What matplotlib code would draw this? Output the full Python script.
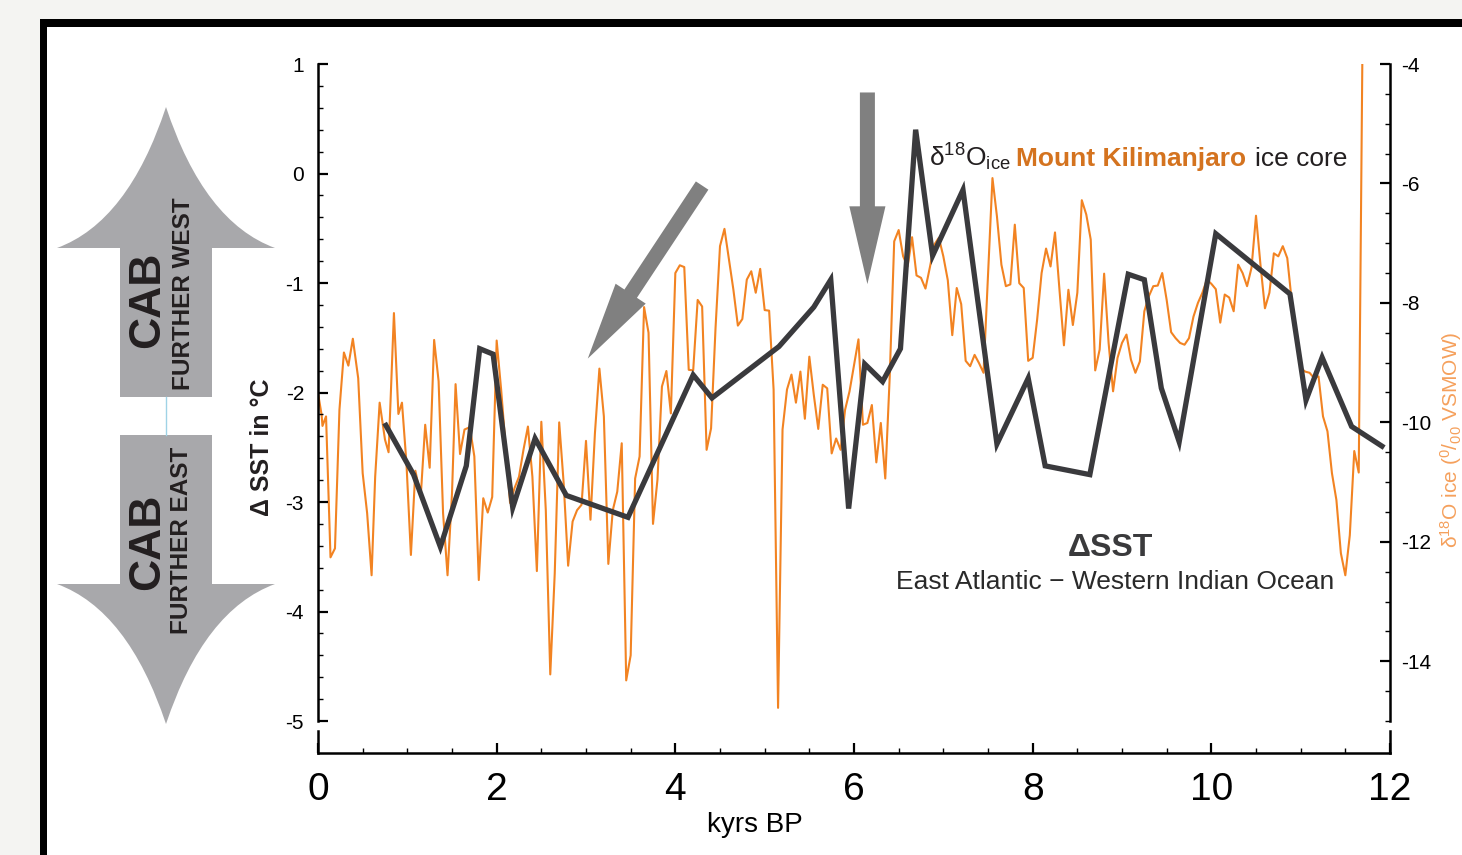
import matplotlib
matplotlib.use("Agg")
import matplotlib.pyplot as plt
from matplotlib.patches import Rectangle, PathPatch, FancyArrowPatch, ArrowStyle
from matplotlib.path import Path
from matplotlib.ticker import MultipleLocator

plt.rcParams["font.family"] = ["Liberation Sans", "DejaVu Sans"]
plt.rcParams["axes.unicode_minus"] = False
plt.rcParams["mathtext.fontset"] = "custom"
plt.rcParams["mathtext.rm"] = "Liberation Sans"
plt.rcParams["mathtext.it"] = "Liberation Sans:italic"
plt.rcParams["mathtext.bf"] = "Liberation Sans:bold"
narrow = ["Liberation Sans Narrow", "Liberation Sans", "DejaVu Sans"]

W, H = 1462, 855

# Delta SST, East Atlantic minus Western Indian Ocean (deg C)
sst_kyr = [0.76, 1.07, 1.37, 1.66, 1.81, 1.96, 2.18, 2.43, 2.78, 3.47, 4.20, 4.41,
           5.16, 5.55, 5.74, 5.94, 6.12, 6.32, 6.52, 6.69, 6.88, 7.22, 7.60, 7.95,
           8.14, 8.64, 9.07, 9.25, 9.44, 9.64, 10.05, 10.88, 11.06, 11.24, 11.57, 11.91]
sst_val = [-2.30, -2.75, -3.41, -2.67, -1.60, -1.65, -3.05, -2.42, -2.94, -3.14, -1.84, -2.05,
           -1.58, -1.22, -0.97, -3.06, -1.74, -1.90, -1.60, 0.40, -0.75, -0.15, -2.47, -1.87,
           -2.67, -2.75, -0.92, -0.97, -1.96, -2.45, -0.55, -1.10, -2.07, -1.68, -2.31, -2.49]

# Mount Kilimanjaro ice core d18O (permil VSMOW)
ice_kyr = [0.00, 0.04, 0.05, 0.09, 0.14, 0.19, 0.24, 0.29, 0.34, 0.39, 0.45, 0.50,
           0.55, 0.60, 0.64, 0.69, 0.75, 0.79, 0.85, 0.90, 0.94, 0.99, 1.04, 1.09,
           1.15, 1.20, 1.25, 1.30, 1.35, 1.40, 1.45, 1.50, 1.54, 1.59, 1.64, 1.70,
           1.75, 1.80, 1.85, 1.90, 1.95, 2.00, 2.05, 2.10, 2.15, 2.20, 2.25, 2.30,
           2.35, 2.40, 2.45, 2.50, 2.55, 2.60, 2.65, 2.70, 2.75, 2.80, 2.85, 2.90,
           2.95, 3.00, 3.05, 3.10, 3.15, 3.20, 3.25, 3.30, 3.35, 3.40, 3.45, 3.50,
           3.55, 3.60, 3.65, 3.70, 3.75, 3.80, 3.85, 3.90, 3.95, 4.00, 4.05, 4.10,
           4.15, 4.20, 4.25, 4.30, 4.35, 4.40, 4.45, 4.50, 4.55, 4.60, 4.65, 4.70,
           4.75, 4.80, 4.85, 4.90, 4.95, 5.00, 5.05, 5.10, 5.15, 5.20, 5.25, 5.30,
           5.35, 5.40, 5.45, 5.50, 5.55, 5.60, 5.65, 5.70, 5.75, 5.80, 5.85, 5.90,
           5.95, 6.00, 6.05, 6.10, 6.15, 6.20, 6.25, 6.30, 6.35, 6.40, 6.45, 6.50,
           6.55, 6.60, 6.65, 6.70, 6.75, 6.80, 6.85, 6.90, 6.95, 7.00, 7.05, 7.10,
           7.15, 7.20, 7.25, 7.30, 7.35, 7.40, 7.45, 7.55, 7.60, 7.65, 7.70, 7.75,
           7.80, 7.85, 7.90, 7.95, 8.00, 8.05, 8.10, 8.15, 8.20, 8.25, 8.30, 8.35,
           8.40, 8.45, 8.50, 8.55, 8.60, 8.65, 8.70, 8.75, 8.80, 8.85, 8.90, 8.95,
           9.00, 9.05, 9.10, 9.15, 9.20, 9.25, 9.30, 9.35, 9.40, 9.45, 9.50, 9.55,
           9.60, 9.65, 9.70, 9.75, 9.80, 9.85, 9.90, 9.95, 10.00, 10.05, 10.10, 10.15,
           10.20, 10.25, 10.30, 10.35, 10.40, 10.45, 10.50, 10.55, 10.60, 10.65, 10.70, 10.75,
           10.80, 10.85, 10.90, 10.95, 11.00, 11.05, 11.10, 11.15, 11.20, 11.25, 11.30, 11.35,
           11.40, 11.45, 11.50, 11.55, 11.60, 11.65, 11.69]
ice_d18o = [-9.51, -9.87, -10.06, -9.90, -12.26, -12.11, -9.79, -8.83, -9.05, -8.60, -9.26, -10.85,
            -11.52, -12.56, -10.91, -9.67, -10.29, -10.50, -8.17, -9.86, -9.67, -10.68, -12.22, -10.81,
            -11.24, -10.04, -10.76, -8.62, -9.31, -11.52, -12.56, -11.19, -9.36, -10.53, -10.12, -10.08,
            -10.57, -12.64, -11.27, -11.51, -11.25, -8.63, -9.45, -10.40, -11.35, -11.10, -10.91, -10.46,
            -10.07, -10.91, -12.49, -9.99, -11.47, -14.22, -12.53, -10.00, -11.02, -12.40, -11.66, -11.47,
            -11.38, -10.31, -11.63, -10.18, -9.10, -9.90, -12.37, -11.47, -11.16, -10.35, -14.32, -13.90,
            -10.94, -10.57, -8.07, -8.50, -11.70, -10.96, -9.40, -9.14, -9.85, -7.50, -7.37, -7.40,
            -9.12, -9.13, -7.95, -8.06, -10.46, -10.10, -8.42, -7.05, -6.76, -7.27, -7.78, -8.38,
            -8.27, -7.61, -7.47, -7.83, -7.43, -8.12, -8.13, -9.45, -14.78, -10.12, -9.45, -9.20,
            -9.67, -9.15, -9.94, -8.90, -9.54, -10.11, -9.37, -9.43, -10.52, -10.27, -10.46, -9.79,
            -9.48, -9.04, -8.61, -10.04, -10.01, -9.71, -10.67, -10.01, -10.94, -9.23, -6.97, -6.78,
            -7.22, -7.39, -6.90, -7.54, -7.58, -7.76, -7.40, -7.02, -6.91, -7.22, -7.62, -8.54,
            -7.75, -8.02, -8.97, -9.06, -8.87, -9.01, -9.17, -5.91, -6.55, -7.36, -7.72, -7.69,
            -6.69, -7.67, -7.75, -8.97, -8.92, -8.28, -7.50, -7.09, -7.39, -6.82, -7.78, -8.71,
            -7.78, -8.37, -7.83, -6.28, -6.52, -6.94, -9.13, -8.78, -7.51, -8.67, -9.48, -8.92,
            -8.67, -8.53, -8.95, -9.17, -8.98, -8.14, -7.89, -7.72, -7.71, -7.50, -7.95, -8.49,
            -8.59, -8.67, -8.70, -8.59, -8.23, -8.00, -7.83, -7.61, -7.68, -7.77, -8.33, -7.86,
            -7.91, -8.14, -7.36, -7.50, -7.72, -7.41, -6.54, -7.36, -8.09, -7.83, -7.17, -7.22,
            -7.05, -7.25, -7.97, -8.56, -9.09, -9.15, -9.17, -9.26, -9.23, -9.90, -10.15, -10.85,
            -11.30, -12.19, -12.56, -11.89, -10.48, -10.84, -4.00]

x_ticks = [0, 2, 4, 6, 8, 10, 12]
sst_ticks = [1, 0, -1, -2, -3, -4, -5]
d18o_ticks = [-4, -6, -8, -10, -12, -14]

fig = plt.figure(figsize=(W / 100, H / 100), dpi=100, facecolor="#f4f4f2")

# frame and the CAB arrows, drawn in pixel units
deco = fig.add_axes([0, 0, 1, 1], zorder=0)
deco.set_xlim(0, W)
deco.set_ylim(H, 0)
deco.axis("off")
deco.add_patch(Rectangle((40, 19), W, H, fc="black", ec="none"))
deco.add_patch(Rectangle((47, 27), W, H, fc="white", ec="none"))

codes = [Path.MOVETO, Path.LINETO, Path.LINETO, Path.CURVE3, Path.CURVE3,
         Path.CURVE3, Path.CURVE3, Path.LINETO, Path.LINETO, Path.CLOSEPOLY]
up = [(120, 397), (120, 248), (57, 248), (128, 222), (166, 107),
      (204, 222), (275, 248), (212, 248), (212, 397), (120, 397)]
down = [(120, 435), (120, 584), (57, 584), (128, 610), (166, 724),
        (204, 610), (275, 584), (212, 584), (212, 435), (120, 435)]
for verts in (up, down):
    deco.add_patch(PathPatch(Path(verts, codes), fc="#a8a8ab", ec="none"))
deco.plot([166, 166], [397, 435], color="#9fd3e6", lw=1)

cab = dict(rotation=90, fontweight="bold", family=narrow, ha="center",
           va="center", color="#231f20")
deco.text(148, 300, "CAB", fontsize=32, **cab)
deco.text(183, 294, "FURTHER WEST", fontsize=17.5, **cab)
deco.text(148, 542, "CAB", fontsize=32, **cab)
deco.text(182, 540, "FURTHER EAST", fontsize=17.5, **cab)

# main panel
ax = fig.add_axes([318 / W, 1 - 721 / H, 1072 / W, 657 / H], zorder=2)
ax.patch.set_visible(False)
ax2 = ax.twinx()
ax2.set_zorder(1)

ax2.plot(ice_kyr, ice_d18o, color="#f28322", lw=1.5)
ax.plot(sst_kyr, sst_val, color="#3a3a3d", lw=3.8, solid_joinstyle="miter")

ax.set_xlim(0, 12)
ax.set_ylim(-5, 1)
ax2.set_ylim(-15, -4)

for s in ("top", "bottom", "right"):
    ax.spines[s].set_visible(False)
for s in ("top", "bottom", "left"):
    ax2.spines[s].set_visible(False)
ax.spines["left"].set_linewidth(1.8)
ax2.spines["right"].set_linewidth(1.8)

ax.tick_params(axis="x", which="both", bottom=False, labelbottom=False)
ax.set_yticks(sst_ticks)
ax.yaxis.set_minor_locator(MultipleLocator(0.2))
ax.tick_params(axis="y", which="major", direction="in", length=7, width=1.6,
               pad=10, labelsize=15)
ax.tick_params(axis="y", which="minor", direction="in", length=3.5, width=1.0)

ax2.set_yticks(d18o_ticks)
ax2.yaxis.set_minor_locator(MultipleLocator(0.5))
ax2.tick_params(axis="y", which="major", direction="in", length=7, width=1.6,
                pad=8, labelsize=15)
ax2.tick_params(axis="y", which="minor", direction="in", length=3.5, width=1.0)

# detached time axis
xax = fig.add_axes([318 / W, 1 - 753 / H, 1072 / W, 22 / H], zorder=2)
xax.patch.set_visible(False)
xax.set_xlim(0, 12)
xax.spines["top"].set_visible(False)
for s in ("bottom", "left", "right"):
    xax.spines[s].set_linewidth(1.8)
xax.set_yticks([])
xax.set_xticks(x_ticks)
xax.xaxis.set_minor_locator(MultipleLocator(0.5))
xax.tick_params(axis="x", which="major", direction="in", length=7, width=1.6,
                pad=14, labelsize=28, labelfontfamily=narrow)
xax.tick_params(axis="x", which="minor", direction="in", length=3.5, width=1.0)

fig.text(755 / W, 1 - 825 / H, "kyrs BP", fontsize=20, family=narrow,
         ha="center", va="center")
fig.text(262 / W, 1 - 447 / H, "Δ SST in °C", fontsize=18, fontweight="bold",
         rotation=90, ha="center", va="center", color="#231f20")
fig.text(1451 / W, 1 - 440 / H, "δ$^{18}$O ice ($^{0}$/$_{00}$ VSMOW)", fontsize=15,
         rotation=90, ha="center", va="center", color="#f5a05c")

# gray arrows
style = ArrowStyle.Simple(head_length=56, head_width=26, tail_width=10.8)
for tail, tip in [((4.30, -0.11), (3.02, -1.69)), ((6.15, 0.74), (6.15, -1.01))]:
    ax.add_patch(FancyArrowPatch(tail, tip, arrowstyle=style, mutation_scale=1,
                                 shrinkA=0, shrinkB=0, fc="#808080", ec="none"))

# labels
t3 = ax.text(11.52, 0.068, "ice core", ha="right", va="baseline", fontsize=19,
             color="#231f20")
t2 = ax.annotate("Mount Kilimanjaro", xy=(0, 0.068), xycoords=(t3, "data"),
                 xytext=(-6, 0), textcoords="offset points", ha="right",
                 va="baseline", fontsize=19, fontweight="bold", color="#d4731f")
ax.annotate(r"δ$^{18}$O$_{\mathrm{ice}}$", xy=(0, 0.068), xycoords=(t2, "data"),
            xytext=(-4, 0), textcoords="offset points", ha="right",
            va="baseline", fontsize=19, color="#231f20")

ax.text(8.87, -3.42, "ΔSST", ha="center", va="center", fontsize=23,
        fontweight="bold", color="#3a3a3c")
ax.text(8.92, -3.73, "East Atlantic − Western Indian Ocean", ha="center",
        va="center", fontsize=19, color="#2a2a2a")

fig.savefig("out.png", dpi=100, facecolor=fig.get_facecolor())
